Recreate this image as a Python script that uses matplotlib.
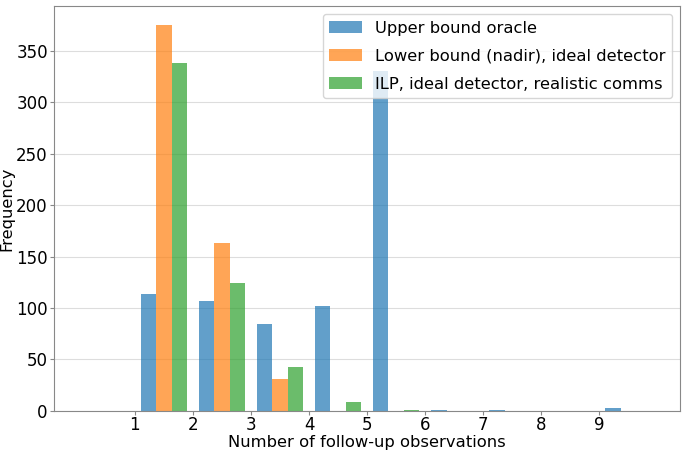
import numpy
import matplotlib
matplotlib.use("Agg")
import matplotlib.pyplot as plt

# counts per bin, bins [0,1), [1,2), ..., [9,10)
bins = numpy.arange(0, 11)
labels = ["Upper bound oracle",
          "Lower bound (nadir), ideal detector",
          "ILP, ideal detector, realistic comms"]
upper = [0, 114, 107, 84, 102, 330, 1, 1, 0, 3]
lower = [0, 375, 163, 31, 0, 0, 0, 0, 0, 0]
ilp = [0, 338, 124, 43, 9, 1, 0, 0, 0, 0]

fig = plt.figure(figsize=(6.85, 4.51), dpi=100)
ax = fig.add_subplot(111)
fig.subplots_adjust(left=0.079, right=0.993, top=0.987, bottom=0.089)

centers = bins[:-1] + 0.5
ax.hist([centers] * 3, bins=bins, weights=[upper, lower, ilp],
        alpha=0.7, label=labels, color=["tab:blue", "tab:orange", "tab:green"])

ax.set_xticks(numpy.arange(1, 10))
ax.set_xlabel("Number of follow-up observations", fontsize=11.8)
ax.set_ylabel("Frequency", fontsize=11.8)
ax.xaxis.set_label_coords(0.5, -0.059)
ax.yaxis.set_label_coords(-0.063, 0.5)
ax.yaxis.grid(color="#dddddd")
ax.set_axisbelow(True)
for s in ax.spines.values():
    s.set_color("#888888")
ax.tick_params(color="#888888", length=3, labelsize=12)
ax.tick_params(axis="x", pad=1)
ax.tick_params(axis="y", pad=1.5)
ax.legend(loc="upper right", fontsize=11.8, labelspacing=0.8)

plt.savefig("out.png")
